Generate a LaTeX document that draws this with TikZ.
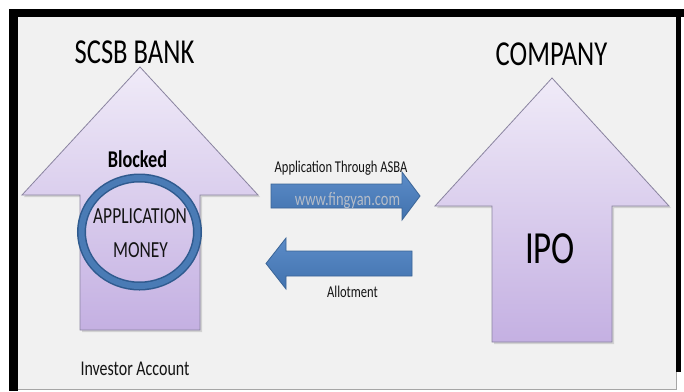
\documentclass[tikz,border=0pt]{standalone}
\usepackage{fontspec}
\setmainfont{Carlito}[FakeStretch=0.76]
\usetikzlibrary{shapes.geometric}
\definecolor{pagebg}{HTML}{F1F1F1}
\definecolor{lavtop}{HTML}{F0EBF8}
\definecolor{lavbot}{HTML}{C4B0E2}
\definecolor{lavline}{HTML}{8A84A0}
\definecolor{bluetop}{HTML}{5C8CC8}
\definecolor{bluebot}{HTML}{4172AE}
\definecolor{blueline}{HTML}{3A6496}
\definecolor{ringdark}{HTML}{2F5A8E}
\definecolor{ringmid}{HTML}{4A7BB5}
\definecolor{marktext}{HTML}{B4BCC8}
\tikzset{
  bigarrow/.style={top color=lavtop, bottom color=lavbot, draw=lavline, line width=0.8pt, line join=miter},
  flowarrow/.style={top color=bluetop, bottom color=bluebot, draw=blueline, line width=0.8pt},
  dropshadow/.style={fill=black, opacity=0.13},
  title/.style={anchor=base, font=\fontsize{35}{40}\selectfont, text=black, inner sep=0pt},
  label/.style={anchor=base, inner sep=0pt, text=black!92},
}
\begin{document}
\begin{tikzpicture}[x=1pt, y=-1pt]
\useasboundingbox (0,0) rectangle (684,391);
% page and frame
\fill[white] (0,0) rectangle (684,391);
\fill[pagebg] (17,17) rectangle (676,389);
\fill[black] (9,9) rectangle (684,17);
\fill[black] (9,9) rectangle (18,391);
\fill[black] (675.5,9) rectangle (681,372);
\draw[gray!70, line width=0.8pt] (18,389) -- (676,389) -- (676,372);

% SCSB bank up-arrow
\fill[dropshadow] [shift={(2,2)}] (140,67) -- (258,195) -- (200,195) -- (200,330) -- (80,330) -- (80,195) -- (22,195) -- cycle;
\path[bigarrow] (140,67) -- (258,195) -- (200,195) -- (200,330) -- (80,330) -- (80,195) -- (22,195) -- cycle;

% company up-arrow
\fill[dropshadow] [shift={(2,2)}] (552,78) -- (669,206) -- (612,206) -- (612,342) -- (492,342) -- (492,206) -- (435,206) -- cycle;
\path[bigarrow] (552,78) -- (669,206) -- (612,206) -- (612,342) -- (492,342) -- (492,206) -- (435,206) -- cycle;

% flow arrows between the two parties
\path[flowarrow] (271,184) -- (402,184) -- (402,172) -- (420,196) -- (402,220) -- (402,208) -- (271,208) -- cycle;
\path[flowarrow] (412,251) -- (286,251) -- (286,238) -- (266,263.5) -- (286,289) -- (286,276) -- (412,276) -- cycle;

% blocked-money ring
\draw[ringdark, line width=9pt] (139.5,232) ellipse [x radius=58, y radius=54];
\draw[ringmid, line width=6pt] (139.5,232) ellipse [x radius=58, y radius=54];

% texts
\node[title] (bank) at (134.5,63.3) {SCSB BANK};
\node[title] (company) at (551.5,65) {COMPANY};
\node[label, font=\bfseries\fontsize{24}{28}\selectfont, text=black] (blocked) at (137.5,167) {Blocked};
\node[label, font=\fontsize{23}{27}\selectfont] (appl) at (140,223) {APPLICATION};
\node[label, font=\fontsize{23}{27}\selectfont] (money) at (140.5,257) {MONEY};
\node[label, font=\fontsize{21}{25}\selectfont] (investor) at (135,375) {Investor Account};
\node[label, font=\fontsize{16.5}{20}\selectfont] (asba) at (341,172) {Application Through ASBA};
\node[anchor=base, inner sep=0pt, text=marktext, font=\fontsize{19}{22}\selectfont] (mark) at (347.5,205) {www.fingyan.com};
\node[label, font=\fontsize{16.5}{20}\selectfont] (allot) at (352.5,297) {Allotment};
\node[label, text=black, font=\fontsize{46}{50}\selectfont] (ipo) at (550,263) {IPO};
\end{tikzpicture}
\end{document}
